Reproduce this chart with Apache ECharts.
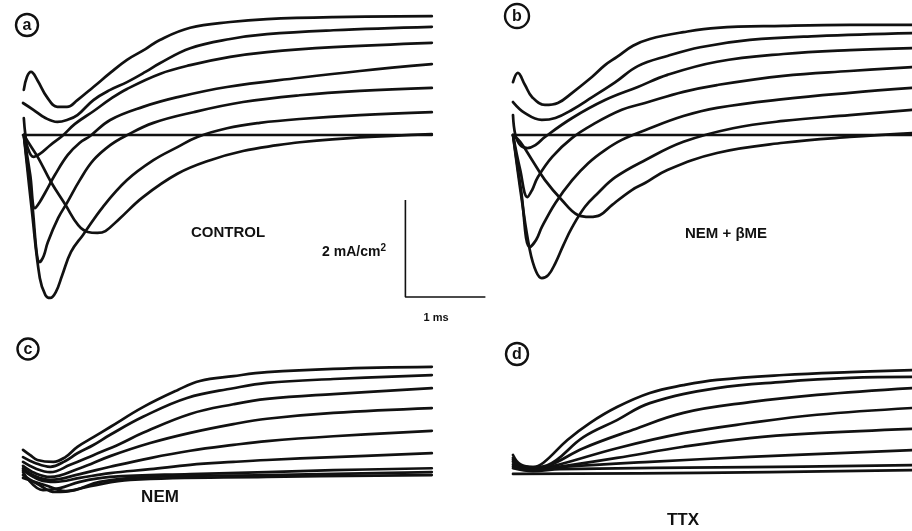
<!DOCTYPE html>
<html>
<head>
<meta charset="utf-8">
<script src="https://cdn.jsdelivr.net/npm/echarts@6/dist/echarts.min.js"></script>
<style>
html,body{margin:0;padding:0;background:#fff;}
#chart{width:912px;height:531px;}
</style>
</head>
<body>
<div id="chart"></div>
<script>
// time in ms from step onset, current in mA/cm^2 (outward positive)
// Panel a: CONTROL
const ctrl0 = [[0,0],[5.11,0]];
const ctrl1 = [[0.01,0.93],[0.05,1.20],[0.10,1.30],[0.18,1.13],[0.30,0.78],[0.43,0.58],[0.55,0.58],[0.68,0.72],[0.88,0.99],[1.09,1.28],[1.30,1.55],[1.53,1.77],[1.71,1.96],[2.09,2.21],[2.59,2.33],[3.05,2.39],[3.88,2.43],[5.11,2.45]];
const ctrl2 = [[0,0.66],[0.13,0.52],[0.28,0.35],[0.43,0.27],[0.55,0.31],[0.68,0.41],[0.88,0.72],[1.09,0.93],[1.30,1.09],[1.53,1.30],[1.71,1.48],[2.09,1.79],[2.59,1.98],[3.05,2.08],[3.88,2.16],[5.11,2.23]];
const ctrl3 = [[0.01,0.35],[0.03,0],[0.06,-0.27],[0.13,-0.45],[0.21,-0.39],[0.34,-0.21],[0.49,-0.02],[0.65,0.23],[0.88,0.49],[1.09,0.74],[1.30,0.95],[1.71,1.26],[2.09,1.44],[2.59,1.61],[3.05,1.71],[3.88,1.81],[5.11,1.90]];
const ctrl4 = [[0.01,0],[0.09,-0.82],[0.15,-1.51],[0.21,-1.38],[0.28,-1.18],[0.40,-0.82],[0.56,-0.41],[0.71,-0.16],[0.84,-0.02],[1.09,0.31],[1.50,0.58],[1.93,0.78],[2.55,0.99],[3.46,1.18],[4.21,1.32],[5.11,1.46]];
const ctrl5 = [[0.01,0],[0.11,-1.34],[0.21,-2.62],[0.26,-2.49],[0.31,-2.21],[0.44,-1.71],[0.55,-1.40],[0.71,-0.93],[0.88,-0.52],[1.09,-0.21],[1.28,-0.02],[1.63,0.25],[2.13,0.47],[2.75,0.68],[3.46,0.82],[4.21,0.91],[5.11,0.97]];
const ctrl6 = [[0.01,0],[0.11,-1.55],[0.21,-2.95],[0.28,-3.30],[0.34,-3.36],[0.41,-3.24],[0.49,-2.89],[0.60,-2.41],[0.75,-2.06],[1.00,-1.48],[1.30,-0.93],[1.63,-0.52],[1.93,-0.25],[2.18,-0.04],[2.55,0.14],[2.96,0.25],[3.46,0.33],[4.21,0.41],[5.11,0.47]];
const ctrl7 = [[0.01,0],[0.09,-0.21],[0.19,-0.47],[0.35,-0.97],[0.53,-1.44],[0.69,-1.86],[0.81,-2.00],[0.93,-2.02],[1.03,-1.98],[1.21,-1.72],[1.50,-1.28],[1.93,-0.80],[2.34,-0.52],[2.75,-0.33],[3.18,-0.21],[3.46,-0.15],[4.21,-0.05],[5.11,0.02]];

// Panel b: NEM + beta-ME
const bme0 = [[0,0],[5.0,0]];
const bme1 = [[0,1.09],[0.06,1.28],[0.15,1.03],[0.24,0.78],[0.40,0.62],[0.56,0.66],[0.74,0.87],[0.99,1.20],[1.15,1.44],[1.30,1.61],[1.50,1.84],[1.71,1.98],[2.13,2.12],[2.55,2.21],[3.38,2.25],[4.21,2.27],[4.99,2.27]];
const bme2 = [[0,0.68],[0.15,0.45],[0.36,0.31],[0.53,0.35],[0.74,0.52],[0.99,0.78],[1.28,1.09],[1.56,1.42],[1.93,1.63],[2.34,1.81],[2.96,1.96],[3.80,2.04],[4.99,2.10]];
const bme3 = [[0,0.41],[0.03,0],[0.09,-0.21],[0.18,-0.27],[0.28,-0.21],[0.40,-0.04],[0.74,0.35],[1.15,0.72],[1.56,0.99],[1.93,1.24],[2.55,1.51],[3.38,1.67],[4.21,1.75],[4.99,1.79]];
const bme4 = [[0,0],[0.09,-0.72],[0.18,-1.28],[0.24,-1.13],[0.31,-0.87],[0.49,-0.45],[0.74,-0.06],[0.99,0.21],[1.36,0.52],[1.65,0.66],[2.13,0.89],[2.55,1.03],[3.38,1.22],[4.21,1.32],[4.99,1.40]];
const bme5 = [[0,0],[0.10,-1.13],[0.21,-2.31],[0.29,-2.16],[0.36,-1.90],[0.53,-1.40],[0.74,-0.93],[0.94,-0.58],[1.15,-0.31],[1.36,-0.10],[1.65,0.10],[2.13,0.39],[2.55,0.56],[3.38,0.74],[4.21,0.87],[4.99,0.97]];
const bme6 = [[0,0],[0.11,-1.34],[0.21,-2.37],[0.29,-2.82],[0.36,-2.95],[0.44,-2.89],[0.53,-2.64],[0.63,-2.27],[0.74,-1.90],[0.90,-1.48],[1.06,-1.20],[1.28,-0.87],[1.65,-0.52],[2.13,-0.14],[2.75,0.14],[3.38,0.29],[4.21,0.41],[4.99,0.52]];
const bme7 = [[0,0],[0.09,-0.14],[0.24,-0.52],[0.40,-0.93],[0.61,-1.34],[0.81,-1.65],[0.96,-1.69],[1.09,-1.65],[1.24,-1.44],[1.49,-1.13],[1.65,-0.99],[1.93,-0.72],[2.55,-0.37],[3.38,-0.16],[4.21,-0.04],[4.99,0.04]];

// Panel c: NEM
const nem1 = [[0,0.54],[0.09,0.43],[0.18,0.33],[0.38,0.29],[0.53,0.39],[0.68,0.60],[0.88,0.80],[1.09,1.01],[1.50,1.42],[1.93,1.77],[2.21,1.96],[2.63,2.06],[3.05,2.14],[3.88,2.21],[5.11,2.25]];
const nem2 = [[0,0.39],[0.15,0.27],[0.34,0.19],[0.53,0.31],[0.68,0.47],[0.88,0.64],[1.09,0.85],[1.50,1.22],[2.05,1.61],[2.63,1.81],[3.05,1.92],[3.88,2.00],[5.11,2.08]];
const nem3 = [[0,0.29],[0.15,0.16],[0.34,0.08],[0.59,0.23],[0.88,0.43],[1.21,0.66],[1.50,0.89],[2.09,1.28],[2.63,1.48],[3.05,1.59],[3.88,1.69],[5.11,1.81]];
const nem4 = [[0,0.21],[0.15,0.06],[0.34,-0.02],[0.71,0.16],[1.09,0.41],[1.59,0.68],[2.09,0.89],[2.63,1.07],[3.05,1.18],[3.88,1.30],[5.11,1.40]];
const nem5 = [[0,0.16],[0.15,0],[0.34,-0.08],[0.71,0.04],[1.09,0.19],[1.59,0.37],[2.09,0.52],[2.63,0.64],[3.05,0.72],[3.88,0.82],[5.11,0.93]];
const nem6 = [[0,0.12],[0.21,-0.08],[0.40,-0.12],[0.71,-0.04],[1.09,0.06],[1.59,0.14],[2.09,0.23],[2.63,0.29],[3.05,0.33],[3.88,0.39],[5.11,0.47]];
const nem7 = [[0,0.08],[0.25,-0.29],[0.46,-0.25],[0.71,-0.12],[1.09,-0.02],[2.09,0.04],[3.05,0.08],[3.88,0.12],[5.11,0.16]];
const nem8 = [[0,0.02],[0.21,-0.19],[0.40,-0.33],[0.65,-0.29],[0.96,-0.12],[1.59,-0.02],[3.05,0.02],[5.11,0.08]];
const nem9 = [[0,-0.04],[0.28,-0.19],[0.53,-0.31],[0.84,-0.21],[1.34,-0.08],[3.05,-0.02],[5.11,0.02]];

// Panel d: TTX
const ttx1 = [[0,0.35],[0.09,0.16],[0.25,0.10],[0.38,0.19],[0.68,0.66],[0.96,1.01],[1.30,1.34],[1.71,1.63],[2.13,1.79],[2.55,1.90],[3.38,2.00],[4.21,2.06],[4.99,2.10]];
const ttx2 = [[0,0.29],[0.09,0.14],[0.25,0.10],[0.43,0.14],[0.88,0.72],[1.30,1.07],[1.71,1.42],[2.55,1.73],[3.38,1.86],[4.21,1.94],[4.99,1.96]];
const ttx3 = [[0,0.25],[0.09,0.12],[0.25,0.08],[0.46,0.14],[0.88,0.49],[1.50,0.87],[2.13,1.22],[2.96,1.44],[3.80,1.59],[4.99,1.73]];
const ttx4 = [[0,0.21],[0.09,0.10],[0.25,0.06],[0.50,0.12],[1.30,0.49],[2.13,0.80],[2.96,1.01],[3.80,1.18],[4.99,1.32]];
const ttx5 = [[0,0.16],[0.09,0.08],[0.25,0.04],[0.55,0.10],[1.30,0.29],[2.13,0.52],[2.96,0.70],[3.80,0.80],[4.99,0.89]];
const ttx6 = [[0,0.12],[0.25,0.04],[0.59,0.10],[1.71,0.21],[2.96,0.31],[4.99,0.45]];
const ttx7 = [[0,0.08],[0.25,0.02],[0.59,0.06],[2.96,0.10],[4.99,0.14]];
const ttx8 = [[0,-0.04],[2.34,-0.02],[4.99,0.04]];

// Calibration bar: 2 mA/cm^2 vertical, 1 ms horizontal
const scaleBarTime = [4.78, 4.78, 5.78];
const scaleBarCurrent = [-1.34, -3.34, -3.34];

const panelLabels = ['a', 'b', 'c', 'd'];
const conditionLabels = ['CONTROL', 'NEM + \u03B2ME', 'NEM', 'TTX'];

const controlTraces = [ctrl0, ctrl1, ctrl2, ctrl3, ctrl4, ctrl5, ctrl6, ctrl7];
const bmeTraces = [bme0, bme1, bme2, bme3, bme4, bme5, bme6, bme7];
const nemTraces = [nem1, nem2, nem3, nem4, nem5, nem6, nem7, nem8, nem9];
const ttxTraces = [ttx1, ttx2, ttx3, ttx4, ttx5, ttx6, ttx7, ttx8];

const INK = '#111';
const pxPerMs = 80, pxPerMA = 48.5;
const CW = 912;
const FONT = '"Liberation Sans", Arial, sans-serif';

function grid(left, zeroY, yMin, yMax, xMax) {
  return { left: left, top: zeroY - yMax * pxPerMA, width: xMax * pxPerMs, height: (yMax - yMin) * pxPerMA, containLabel: false };
}
const xMaxes = [6, (CW - 513) / pxPerMs, 6, (CW - 513) / pxPerMs];
const yRanges = [[-3.4, 2.6], [-3.4, 2.6], [-0.5, 2.5], [-0.5, 2.5]];
const grids = [
  grid(23, 135, yRanges[0][0], yRanges[0][1], xMaxes[0]),
  grid(513, 135, yRanges[1][0], yRanges[1][1], xMaxes[1]),
  grid(23, 476, yRanges[2][0], yRanges[2][1], xMaxes[2]),
  grid(513, 472, yRanges[3][0], yRanges[3][1], xMaxes[3])
];

const xAxes = grids.map((g, i) => ({ gridIndex: i, type: 'value', min: 0, max: xMaxes[i], show: false }));
const yAxes = grids.map((g, i) => ({ gridIndex: i, type: 'value', min: yRanges[i][0], max: yRanges[i][1], show: false }));

const series = [];
[controlTraces, bmeTraces, nemTraces, ttxTraces].forEach((traces, gi) => {
  traces.forEach(tr => {
    series.push({
      type: 'line', xAxisIndex: gi, yAxisIndex: gi, data: tr,
      showSymbol: false, smooth: 0.4, silent: true, clip: false,
      lineStyle: { color: INK, width: 2.7, cap: 'round', join: 'round' }
    });
  });
});
series.push({
  type: 'line', xAxisIndex: 0, yAxisIndex: 0,
  data: scaleBarTime.map((t, i) => [t, scaleBarCurrent[i]]),
  showSymbol: false, smooth: false, silent: true, clip: false,
  lineStyle: { color: INK, width: 1.6 }
});

const circlePos = [[27, 25, 11], [517, 16, 12], [28, 349, 10.5], [517, 354, 11]];
const graphics = [];
circlePos.forEach((c, i) => {
  graphics.push({ type: 'circle', shape: { cx: c[0], cy: c[1], r: c[2] }, style: { fill: 'none', stroke: INK, lineWidth: 2.4 } });
  graphics.push({ type: 'text', x: c[0], y: c[1] + 0.5, style: { text: panelLabels[i], fill: INK, font: 'bold 16px ' + FONT, align: 'center', verticalAlign: 'middle' } });
});
const condPos = [[228, 233], [726, 234], [160, 497], [683, 520]];
const condSize = [15, 15, 17, 17];
condPos.forEach((p, i) => {
  graphics.push({ type: 'text', x: p[0], y: p[1], style: { text: conditionLabels[i], fill: INK, font: 'bold ' + condSize[i] + 'px ' + FONT, align: 'center', verticalAlign: 'middle' } });
});
graphics.push({ type: 'text', x: 354, y: 252, style: {
  text: '{n|2 mA/cm}{s|2}', align: 'center', verticalAlign: 'middle',
  rich: { n: { fill: INK, font: 'bold 14px ' + FONT }, s: { fill: INK, font: 'bold 10px ' + FONT, verticalAlign: 'top', padding: [0, 0, 8, 0] } } } });
graphics.push({ type: 'text', x: 436, y: 318, style: { text: '1 ms', fill: INK, font: 'bold 11px ' + FONT, align: 'center', verticalAlign: 'middle' } });

const chart = echarts.init(document.getElementById('chart'), null, { renderer: 'canvas' });
chart.setOption({
  animation: false,
  backgroundColor: '#fff',
  grid: grids,
  xAxis: xAxes,
  yAxis: yAxes,
  series: series,
  graphic: graphics
});
</script>
</body>
</html>
